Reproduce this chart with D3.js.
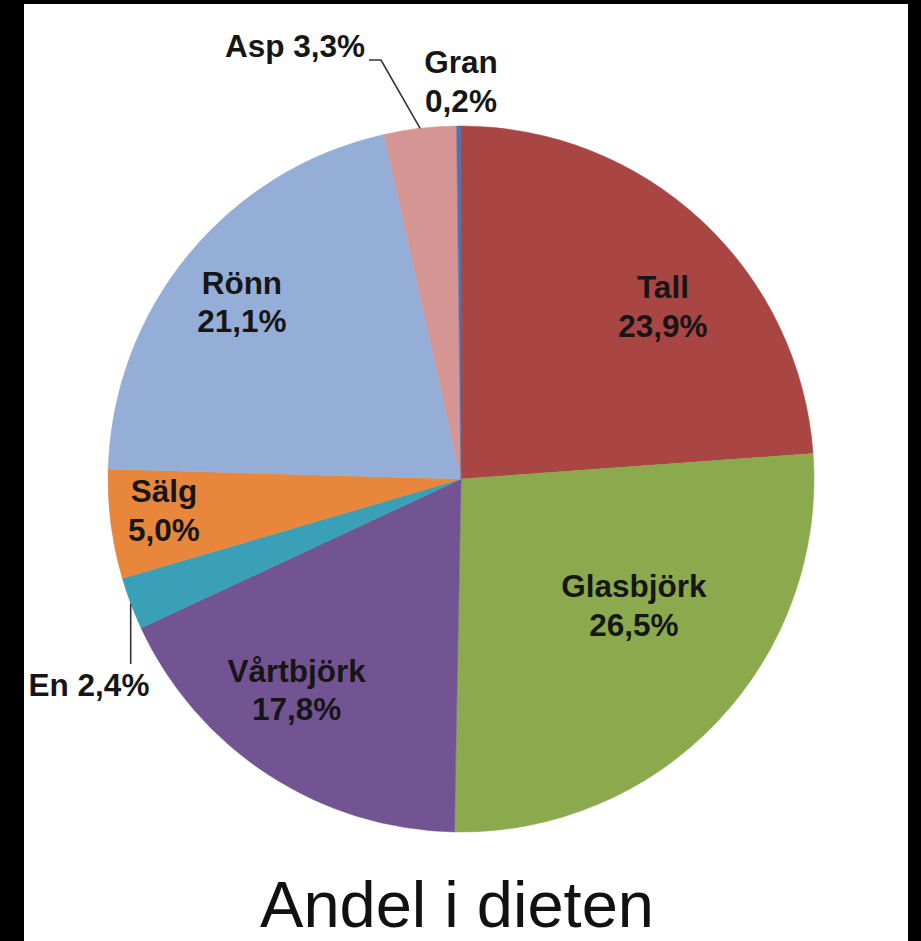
<!DOCTYPE html>
<html>
<head>
<meta charset="utf-8">
<script src="https://cdn.jsdelivr.net/npm/d3@7"></script>
<style>
  html, body { margin: 0; padding: 0; background: #000; }
  svg { display: block; }
</style>
</head>
<body>
<svg id="chart" width="921" height="941"></svg>
<script>
// ---- data ----
const categories = ["Tall", "Glasbjörk", "Vårtbjörk", "En", "Sälg", "Rönn", "Asp", "Gran"];
const values     = [23.9, 26.5, 17.8, 2.4, 5.0, 21.1, 3.3, 0.2];
const valueLabels = ["23,9%", "26,5%", "17,8%", "2,4%", "5,0%", "21,1%", "3,3%", "0,2%"];
const colors = ["#A94543", "#8BA94D", "#735493", "#3AA0B8", "#E8873C", "#95AED8", "#D49593", "#5B6FA8"];
const title = "Andel i dieten";

// ---- layout (not data) ----
const W = 921, H = 941;
const cx = 461, cy = 479, R = 353;
// inside-label placement: radius fraction and angular shift (degrees) from slice mid
const insideLabel = {
  "Tall":      { r: 0.753, shift: 6.5 },
  "Glasbjörk": { r: 0.606, shift: -7.4 },
  "Vårtbjörk": { r: 0.757, shift: 4.9 },
  "Sälg":      { r: 0.846, shift: 1.4 },
  "Rönn":      { r: 0.799, shift: -0.5 }
};

const svg = d3.select("#chart");

// white canvas with black frame
svg.append("rect").attr("x", 0).attr("y", 0).attr("width", W).attr("height", H).attr("fill", "#000");
svg.append("rect").attr("x", 24).attr("y", 4).attr("width", 884).attr("height", H - 4).attr("fill", "#fff");

const data = categories.map((c, i) => ({ name: c, value: values[i], label: valueLabels[i], color: colors[i] }));

const pie = d3.pie().sort(null).value(d => d.value).startAngle(0).endAngle(2 * Math.PI);
const arcs = pie(data);
const arc = d3.arc().innerRadius(0).outerRadius(R);

const g = svg.append("g").attr("transform", `translate(${cx},${cy})`);

g.selectAll("path.slice")
  .data(arcs)
  .join("path")
  .attr("class", "slice")
  .attr("d", arc)
  .attr("fill", d => d.data.color)
  .attr("stroke", d => d.data.color)
  .attr("stroke-width", 0.5);

const fontFamily = "'Liberation Sans', Arial, Helvetica, sans-serif";
const labelColor = "#161616";
const fs = 31.5, lh = 38.5;

function polar(angle, r) {
  return [r * Math.sin(angle), -r * Math.cos(angle)];
}

// inside labels (two lines)
arcs.forEach(d => {
  const L = insideLabel[d.data.name];
  if (!L) return;
  const mid = (d.startAngle + d.endAngle) / 2 + L.shift * Math.PI / 180;
  const [x, y] = polar(mid, L.r * R);
  const t = g.append("text")
    .attr("text-anchor", "middle")
    .attr("font-family", fontFamily)
    .attr("font-weight", "bold")
    .attr("font-size", fs)
    .attr("fill", labelColor);
  t.append("tspan").attr("x", x).attr("y", y - lh / 2 + 11.5).text(d.data.name);
  t.append("tspan").attr("x", x).attr("y", y + lh / 2 + 11.5).text(d.data.label);
});

// outside labels with leader lines
const byName = {};
arcs.forEach(d => byName[d.data.name] = d);

// Gran (two lines, above the pie)
{
  const d = byName["Gran"];
  const t = g.append("text")
    .attr("text-anchor", "middle")
    .attr("font-family", fontFamily)
    .attr("font-weight", "bold")
    .attr("font-size", fs)
    .attr("fill", labelColor);
  t.append("tspan").attr("x", 0).attr("y", 73 - cy).text(d.data.name);
  t.append("tspan").attr("x", 0).attr("y", 73 + lh - cy).text(d.data.label);
}

// Asp (single line, leader to slice edge)
{
  const d = byName["Asp"];
  const mid = (d.startAngle + d.endAngle) / 2;
  const [ex, ey] = polar(mid, R);
  const tx = 365 - cx, ty = 57 - cy;
  g.append("text")
    .attr("text-anchor", "end")
    .attr("x", tx).attr("y", ty)
    .attr("font-family", fontFamily)
    .attr("font-weight", "bold")
    .attr("font-size", fs)
    .attr("fill", labelColor)
    .text(d.data.name + " " + d.data.label);
  g.append("path")
    .attr("d", `M${tx + 4},${ty + 3}H${tx + 16}L${ex},${ey}`)
    .attr("fill", "none")
    .attr("stroke", "#333")
    .attr("stroke-width", 1.6);
}

// En (single line, leader up to slice edge)
{
  const d = byName["En"];
  const mid = (d.startAngle + d.endAngle) / 2;
  const [ex, ey] = polar(mid, R);
  const tx = 89 - cx, ty = 696 - cy;
  g.append("text")
    .attr("text-anchor", "middle")
    .attr("x", tx).attr("y", ty)
    .attr("font-family", fontFamily)
    .attr("font-weight", "bold")
    .attr("font-size", fs)
    .attr("fill", labelColor)
    .text(d.data.name + " " + d.data.label);
  g.append("path")
    .attr("d", `M${ex},${ey}V${ty - 32}`)
    .attr("fill", "none")
    .attr("stroke", "#333")
    .attr("stroke-width", 1.6);
}

// title
svg.append("text")
  .attr("x", 457).attr("y", 927)
  .attr("text-anchor", "middle")
  .attr("font-family", fontFamily)
  .attr("font-size", 65)
  .attr("fill", "#111")
  .text(title);
</script>
</body>
</html>
